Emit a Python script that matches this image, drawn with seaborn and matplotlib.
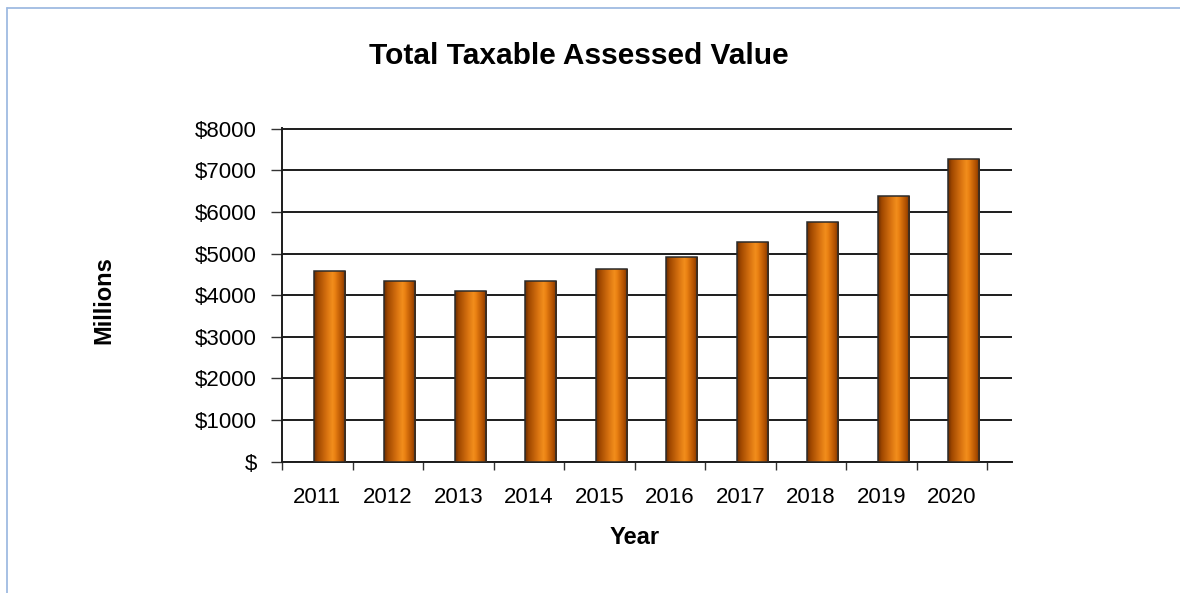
import numpy as np
import pandas as pd
import matplotlib
matplotlib.use("Agg")
import matplotlib.pyplot as plt
import seaborn as sns
from matplotlib.colors import LinearSegmentedColormap
from matplotlib.lines import Line2D

# Total taxable assessed value, in millions of dollars
years = ["2011", "2012", "2013", "2014", "2015", "2016", "2017", "2018", "2019", "2020"]
values = [4590, 4330, 4090, 4350, 4620, 4920, 5270, 5750, 6380, 7260]
y_ticks = [0, 1000, 2000, 3000, 4000, 5000, 6000, 7000, 8000]
y_tick_labels = ["$"] + [f"${v}" for v in y_ticks[1:]]

sns.set_theme(style="white")
plt.rcParams["font.family"] = ["Liberation Sans", "DejaVu Sans"]

fig = plt.figure(figsize=(11.8, 5.93), dpi=100)
ax = fig.add_axes([282 / 1180, 1 - 461.7 / 593, 730 / 1180, 333.7 / 593])

df = pd.DataFrame({"Year": years, "Value": values})
sns.barplot(data=df, x="Year", y="Value", ax=ax, width=0.44,
            color="#e07a10", saturation=1, edgecolor="#2b2b2b",
            linewidth=1.1, zorder=3)

# cylinder-style shading across each column
shade = LinearSegmentedColormap.from_list("column", [
    (0.00, "#682c00"), (0.12, "#a04800"), (0.40, "#d87210"),
    (0.58, "#f28e1c"), (0.66, "#e98012"), (0.88, "#ae4e00"),
    (1.00, "#723200")])
grad = np.linspace(0, 1, 256).reshape(1, -1)

shift = 0.17
for p in list(ax.patches):
    p.set_x(p.get_x() + shift)
    x0, w, h = p.get_x(), p.get_width(), p.get_height()
    p.set_facecolor("none")
    p.set_zorder(4)
    im = ax.imshow(grad, extent=[x0, x0 + w, 0, h], aspect="auto",
                   cmap=shade, zorder=3, interpolation="bilinear")
    im.set_clip_path(p)

cat_w = 705 / 10
ax.set_xlim(-0.5, -0.5 + 730 / cat_w)
ax.set_ylim(0, 8015)

tick_fs = 16
ax.set_yticks(y_ticks)
ax.set_yticklabels(y_tick_labels, fontsize=tick_fs, color="black")
ax.set_xticks(np.arange(-0.5, 10, 1.0))
ax.set_xticklabels([""] * 11)
ax.set_xticks(np.arange(10), minor=True)
ax.set_xticklabels(years, minor=True, fontsize=tick_fs, color="black")
ax.tick_params(axis="x", which="major", direction="out", length=6,
               width=1.0, color="#333333", bottom=True)
ax.tick_params(axis="x", which="minor", length=0, pad=18, bottom=True)
ax.tick_params(axis="y", direction="out", length=8, width=1.0,
               color="#333333", pad=10, left=True)

ax.yaxis.grid(True, color="#1c1c1c", linewidth=1.4)
ax.xaxis.grid(False)
ax.set_axisbelow(True)

for side in ("top", "right"):
    ax.spines[side].set_visible(False)
for side in ("left", "bottom"):
    ax.spines[side].set_color("#1c1c1c")
    ax.spines[side].set_linewidth(1.4)

ax.set_xlabel("Year", fontsize=17, fontweight="bold", color="black")
ax.set_ylabel("Millions", fontsize=17, fontweight="bold", color="black")
ax.xaxis.set_label_coords((635 - 282) / 730, (461.7 - 537) / 333.7)
ax.xaxis.label.set_va("center")
ax.yaxis.set_label_coords((104 - 282) / 730, (461.7 - 300) / 333.7)
ax.yaxis.label.set_va("center")

fig.text(579 / 1180, 1 - 56 / 593, "Total Taxable Assessed Value",
         ha="center", va="center", fontsize=21.5, fontweight="bold",
         color="black")

# thin frame along the top and left edges
frame = "#9fbbe2"
fig.add_artist(Line2D([6.5 / 1180, 1], [1 - 7.5 / 593] * 2,
                      transform=fig.transFigure, color=frame, lw=1.3))
fig.add_artist(Line2D([6.5 / 1180] * 2, [0, 1 - 7.5 / 593],
                      transform=fig.transFigure, color=frame, lw=1.3))

fig.savefig("out.png", dpi=100, facecolor="white")
